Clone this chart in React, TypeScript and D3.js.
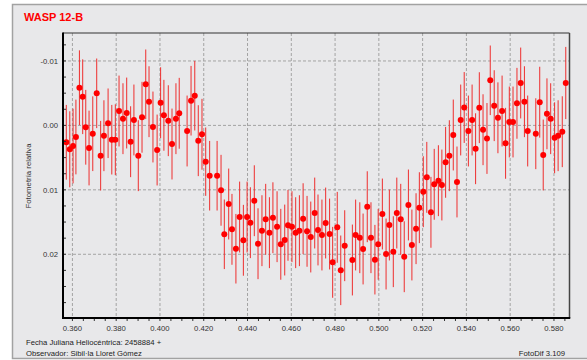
import React from 'react';
import * as d3 from 'd3';

// fecha juliana (fraccion, + 2458884)
const jd = [
  0.3572, 0.3588, 0.3603, 0.3616, 0.3632, 0.3647, 0.3661, 0.3676, 0.3693, 0.3711,
  0.3729, 0.3744, 0.3763, 0.3780, 0.3796, 0.3813, 0.3831, 0.3848, 0.3866, 0.3881,
  0.3901, 0.3918, 0.3935, 0.3950, 0.3968, 0.3987, 0.4003, 0.4018, 0.4038, 0.4055,
  0.4073, 0.4088, 0.4124, 0.4142, 0.4159, 0.4175, 0.4192, 0.4209, 0.4227, 0.4261,
  0.4279, 0.4294, 0.4314, 0.4329, 0.4347, 0.4364, 0.4381, 0.4398, 0.4413, 0.4431,
  0.4448, 0.4466, 0.4483, 0.4500, 0.4516, 0.4535, 0.4552, 0.4570, 0.4585, 0.4603,
  0.4620, 0.4637, 0.4654, 0.4672, 0.4689, 0.4707, 0.4722, 0.4740, 0.4757, 0.4775,
  0.4789, 0.4810, 0.4826, 0.4844, 0.4879, 0.4894, 0.4913, 0.4928, 0.4947, 0.4964,
  0.4982, 0.4997, 0.5016, 0.5033, 0.5048, 0.5066, 0.5082, 0.5100, 0.5116, 0.5135,
  0.5151, 0.5170, 0.5185, 0.5203, 0.5219, 0.5238, 0.5253, 0.5272, 0.5288, 0.5305,
  0.5322, 0.5340, 0.5357, 0.5374, 0.5390, 0.5409, 0.5426, 0.5442, 0.5459, 0.5476,
  0.5494, 0.5509, 0.5527, 0.5544, 0.5563, 0.5579, 0.5596, 0.5613, 0.5631, 0.5648,
  0.5665, 0.5680, 0.5717, 0.5735, 0.5751, 0.5768, 0.5785, 0.5803, 0.5819, 0.5838,
  0.5854,
];

// fotometria relativa (mag)
const flux = [
  0.00262, 0.00371, 0.00320, 0.00180, -0.00585, -0.00445, 0.00029, 0.00351, 0.00129, -0.00498,
  0.00470, 0.00160, -0.00033, 0.00222, 0.00222, -0.00223, -0.00104, -0.00192, 0.00253, -0.00084,
  0.00470, -0.00126, -0.00638, -0.00368, 0.00025, 0.00382, -0.00352, -0.00157, -0.00073, 0.00289,
  -0.00104, -0.00188, 0.00087, -0.00383, -0.00461, 0.00237, 0.00138, 0.00563, 0.00781, 0.00781,
  0.01007, 0.01690, 0.01220, 0.01613, 0.01914, 0.01422, 0.01783, 0.01422, 0.01510, 0.01169,
  0.01836, 0.01634, 0.01457, 0.01665, 0.01433, 0.01572, 0.01845, 0.01779, 0.01551, 0.01572,
  0.01665, 0.01634, 0.01448, 0.01644, 0.01732, 0.01360, 0.01623, 0.01701, 0.01515, 0.01686,
  0.02125, 0.01582, 0.02249, 0.01867, 0.02089, 0.01701, 0.01743, 0.01918, 0.01262, 0.01743,
  0.02084, 0.01845, 0.01375, 0.01996, 0.01546, 0.01960, 0.01360, 0.01457, 0.02038, 0.01235,
  0.01856, 0.01603, 0.01277, 0.01029, 0.00806, 0.01349, 0.00914, 0.00858, 0.00925, 0.00573,
  0.00470, 0.00149, 0.00878, -0.00084, -0.00278, 0.00087, -0.00084, 0.00362, -0.00275, 0.00067,
  0.00203, -0.00700, -0.00306, -0.00118, -0.00223, 0.00278, -0.00053, -0.00053, -0.00343, -0.00658,
  -0.00368, 0.00087, 0.00129, -0.00360, 0.00459, -0.00180, -0.00104, 0.00192, 0.00160, 0.00098,
  -0.00658,
];

// barras de error
const err = [
  0.0058, 0.0059, 0.0058, 0.0058, 0.0058, 0.0058, 0.0058, 0.0058, 0.0058, 0.0054,
  0.0054, 0.0055, 0.0054, 0.0054, 0.0055, 0.0055, 0.0055, 0.0055, 0.0055, 0.0055,
  0.0055, 0.0055, 0.0054, 0.0055, 0.0055, 0.0055, 0.0055, 0.0055, 0.0055, 0.0055,
  0.0055, 0.0055, 0.0055, 0.0054, 0.0054, 0.0055, 0.0055, 0.0053, 0.0054, 0.0054,
  0.0055, 0.0054, 0.0055, 0.0055, 0.0054, 0.0055, 0.0055, 0.0055, 0.0055, 0.0055,
  0.0055, 0.0055, 0.0055, 0.0055, 0.0055, 0.0055, 0.0055, 0.0055, 0.0055, 0.0055,
  0.0055, 0.0055, 0.0055, 0.0055, 0.0055, 0.0055, 0.0055, 0.0055, 0.0055, 0.0055,
  0.0055, 0.0055, 0.0054, 0.0055, 0.0055, 0.0055, 0.0055, 0.0055, 0.0055, 0.0055,
  0.0054, 0.0055, 0.0055, 0.0055, 0.0055, 0.0055, 0.0055, 0.0055, 0.0055, 0.0055,
  0.0055, 0.0055, 0.0055, 0.0055, 0.0055, 0.0055, 0.0055, 0.0055, 0.0055, 0.0055,
  0.0055, 0.0055, 0.0055, 0.0055, 0.0055, 0.0055, 0.0055, 0.0055, 0.0055, 0.0055,
  0.0055, 0.0054, 0.0055, 0.0055, 0.0055, 0.0055, 0.0055, 0.0055, 0.0055, 0.0055,
  0.0055, 0.0055, 0.0055, 0.0055, 0.0055, 0.0055, 0.0055, 0.0055, 0.0055, 0.0055,
  0.0056,
];

const xTicks = [0.36, 0.38, 0.40, 0.42, 0.44, 0.46, 0.48, 0.50, 0.52, 0.54, 0.56, 0.58];
const yTicks = [-0.01, 0.0, 0.01, 0.02];

const W = 587;
const H = 360;
const font = '"Liberation Sans", Arial, sans-serif';

const App: React.FC = () => {
  const x = d3.scaleLinear().domain([0.3557, 0.5871]).range([63, 569.5]);
  const y = d3.scaleLinear().domain([-0.01434, 0.02989]).range([33, 318]);
  const [x0, x1] = x.range();
  const [y0, y1] = y.range();

  const xMinor = d3.range(0.36, 0.5871, 0.005);
  const yMinor = d3.range(-0.0125, 0.0299, 0.0025);
  const fmtX = d3.format('.3f');
  // FotoDif usa guion normal, no el signo menos unicode
  const fmtY = (v: number) => d3.format('.2f')(v).replace('\u2212', '-');

  const points = jd.map((t, i) => ({ t, v: flux[i], e: err[i] }));

  return (
    <svg width={W} height={H} style={{ position: 'absolute', left: 0, top: 0 }} fontFamily={font}>
      <rect x={0} y={0} width={W} height={H} fill="#fff" />
      <rect x={12.5} y={4.5} width={W} height={354} fill="#e8e8ea" stroke="#a2a2a2" strokeWidth={1.5} />

      <text x={24} y={20.5} fill="#ff0000" fontWeight="bold" fontSize={11}>WASP 12-B</text>

      {/* rejilla */}
      <g stroke="#a3a3a3" strokeWidth={1} strokeDasharray="3,2">
        {xTicks.map(t => (
          <line key={'gx' + t} x1={x(t)} x2={x(t)} y1={y0} y2={y1} />
        ))}
        {yTicks.map(v => (
          <line key={'gy' + v} x1={x0} x2={x1} y1={y(v)} y2={y(v)} />
        ))}
      </g>

      {/* barras de error */}
      <g stroke="#ee2e2e" strokeWidth={1}>
        {points.map((p, i) => (
          <line key={'e' + i} x1={x(p.t)} x2={x(p.t)} y1={y(p.v - p.e)} y2={y(p.v + p.e)} />
        ))}
      </g>
      <g fill="#ff0000">
        {points.map((p, i) => (
          <circle key={'p' + i} cx={x(p.t)} cy={y(p.v)} r={3} />
        ))}
      </g>

      {/* marco */}
      <line x1={x0} x2={x1} y1={y0} y2={y0} stroke="#333" strokeWidth={1} />
      <line x1={x1} x2={x1} y1={y0} y2={y1} stroke="#444" strokeWidth={1.5} />
      <line x1={x0} x2={x0} y1={y0 - 0.5} y2={y1 + 1} stroke="#000" strokeWidth={2} />
      <line x1={x0 - 1} x2={x1 + 0.75} y1={y1} y2={y1} stroke="#000" strokeWidth={2} />

      {/* ticks */}
      <g stroke="#333" strokeWidth={1}>
        {xMinor.map((t, i) => (
          <line key={'mx' + i} x1={x(t)} x2={x(t)} y1={y1 + 1} y2={y1 + 3} />
        ))}
        {yMinor.map((v, i) => (
          <line key={'my' + i} x1={x0 + 1} x2={x0 + 3} y1={y(v)} y2={y(v)} />
        ))}
      </g>

      <g fontSize={7.7} fill="#333">
        {xTicks.map(t => (
          <text key={'tx' + t} x={x(t)} y={330.5} textAnchor="middle">{fmtX(t)}</text>
        ))}
        {yTicks.map(v => (
          <text key={'ty' + v} x={58} y={y(v) + 2.8} textAnchor="end">{fmtY(v)}</text>
        ))}
      </g>

      <text transform="translate(30.5,176) rotate(-90)" textAnchor="middle" fontSize={7.8} fill="#333">
        Fotometría relativa
      </text>

      <g fontSize={7.7} fill="#222">
        <text x={26} y={345}>Fecha Juliana Heliocéntrica: 2458884 +</text>
        <text x={26} y={356}>Observador: Sibil·la Lloret Gómez</text>
        <text x={565} y={356} textAnchor="end">FotoDif 3.109</text>
      </g>
    </svg>
  );
};

export default App;
